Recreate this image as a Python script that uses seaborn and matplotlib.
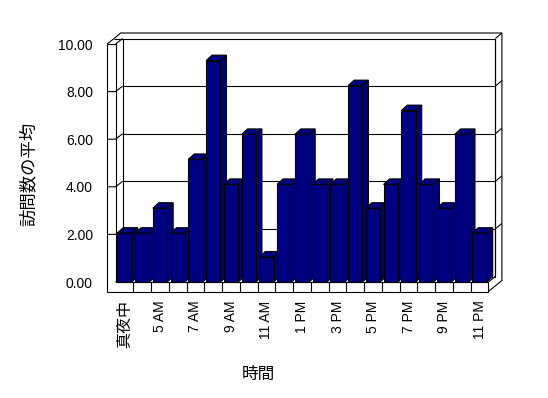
import matplotlib
matplotlib.use("Agg")
import matplotlib.pyplot as plt
import seaborn as sns
import pandas as pd
from matplotlib.patches import Polygon

# ---- data ----
categories = ["真夜中", "4 AM", "5 AM", "6 AM", "7 AM", "8 AM", "9 AM", "10 AM",
              "11 AM", "12 PM", "1 PM", "2 PM", "3 PM", "4 PM", "5 PM", "6 PM",
              "7 PM", "8 PM", "9 PM", "10 PM", "11 PM"]
visits = [2.05, 2.05, 3.1, 2.05, 5.15, 9.3, 4.1, 6.2, 1.05, 4.1, 6.2,
          4.1, 4.1, 8.25, 3.1, 4.1, 7.2, 4.1, 3.1, 6.2, 2.05]
y_ticks = [0, 2, 4, 6, 8, 10]
y_tick_labels = ["0.00", "2.00", "4.00", "6.00", "8.00", "10.00"]
x_label = "時間"
y_label = "訪問数の平均"

sns.set_theme(style="white")
plt.rcParams['font.family'] = ['Liberation Sans', 'Noto Sans CJK JP', 'DejaVu Sans']
for k in ["text.color", "axes.labelcolor", "xtick.color", "ytick.color"]:
    plt.rcParams[k] = "black"

NAVY = "#000080"
LW = 0.8
W, H = 548, 398
fig = plt.figure(figsize=(W / 100, H / 100), dpi=100)
fig.patch.set_facecolor("white")
L, B, AW, AH = 115.6, 116, 372.8, 238
ax = fig.add_axes([L / W, B / H, AW / W, AH / H])
ax.patch.set_alpha(0)

df = pd.DataFrame({"hour": categories, "visits": visits})
sns.barplot(data=df, x="hour", y="visits", color=NAVY, saturation=1,
            width=0.81, edgecolor="black", linewidth=LW, ax=ax)
n = len(categories)
ax.set_xlim(-0.5, n - 0.5)
ax.set_ylim(0, 10)
for s in ax.spines.values():
    s.set_visible(False)
ax.grid(False)

sx = AW / n      # px per x unit
sy = AH / 10     # px per y unit
def px(v): return v / sx
def py(v): return v / sy

# bar depth
dbx, dby = px(6), py(5.5)
for i, p in enumerate(ax.patches):
    x0, w, h = p.get_x(), p.get_width(), p.get_height()
    z = 3 + i * 0.01
    p.set_zorder(z + 0.005)
    p.set_clip_on(False)
    top = Polygon([(x0, h), (x0 + w, h), (x0 + w + dbx, h + dby), (x0 + dbx, h + dby)],
                  closed=True, fc=NAVY, ec="black", lw=LW, zorder=z, clip_on=False)
    side = Polygon([(x0 + w, 0), (x0 + w + dbx, dby), (x0 + w + dbx, h + dby), (x0 + w, h)],
                   closed=True, fc=NAVY, ec="black", lw=LW, zorder=z, clip_on=False)
    ax.add_patch(side)
    ax.add_patch(top)

# 3D frame
xL, xR = -0.5, n - 0.5
xo = xL - px(8.5)
yb = -py(9.5)
d1x, d1y = px(7), py(5.5)
d2x, d2y = px(13.5), py(11)

def line(pts, z=1):
    xs = [q[0] for q in pts]
    ys = [q[1] for q in pts]
    ax.plot(xs, ys, color="black", lw=LW, zorder=z, clip_on=False,
            solid_capstyle="butt", solid_joinstyle="miter")

# back wall inner face
line([(xL + d1x, d1y), (xL + d1x, 10 + d1y)])
line([(xo + d1x, 10 + d1y), (xR + d1x, 10 + d1y), (xR + d1x, d1y)])
line([(xL + d1x, d1y), (xR + d1x, d1y)])
# back wall top band / right edge
line([(xo + d1x, 10 + d1y), (xo + d2x, 10 + d2y), (xR + d2x, 10 + d2y),
      (xR + d2x, yb + d2y), (xR, yb)], z=6)
line([(xR + d1x, 10 + d1y), (xR + d2x, 10 + d2y)], z=6)
line([(xR, 0), (xR + d1x, d1y)], z=6)
line([(xR + d1x, d1y), (xR + d1x, 10 + d1y)], z=6)
# left wall top
line([(xo, 10), (xo + d1x, 10 + d1y)], z=6)
line([(xL, 10), (xL + d1x, 10 + d1y)], z=6)
line([(xL, 0), (xL + d1x, d1y)], z=1)

# gridlines
for v in y_ticks[1:-1]:
    line([(xL + d1x, v + d1y), (xR + d1x, v + d1y)], z=1)
    line([(xR + d1x, v + d1y), (xR + d2x, v + d2y)], z=6)
    line([(xo, v), (xL, v), (xL + d1x, v + d1y)], z=6)

# front faces of left wall and floor
front = Polygon([(xo, 10), (xL, 10), (xL, 0), (xR, 0), (xR, yb), (xo, yb)],
                closed=True, fc="none", ec="black", lw=LW, zorder=6, clip_on=False)
ax.add_patch(front)
for i in range(n - 1):
    line([(i + 0.5, yb), (i + 0.5, 0)], z=6)

# ticks
ax.set_yticks(y_ticks)
ax.set_yticklabels(y_tick_labels, fontsize=10)
ax.tick_params(axis="y", length=0, pad=16.3)
ax.set_xticks(list(range(0, n, 2)))
ax.set_xticklabels(categories[::2], rotation=90, fontsize=10)
ax.tick_params(axis="x", length=0, pad=13.3)
lab0 = ax.get_xticklabels()[0]
lab0.set_fontsize(11.5)
lab0.set_family(["Noto Sans CJK JP"])

ax.set_ylabel(y_label, fontsize=12.5, family=["Noto Sans CJK JP"])
ax.yaxis.set_label_coords(-0.232, 0.454)
ax.yaxis.label.set_va("center")
ax.set_xlabel(x_label, fontsize=12, family=["Noto Sans CJK JP"])
ax.xaxis.set_label_coords(0.382, -0.387)
ax.xaxis.label.set_va("center")

fig.savefig("out.png", dpi=100)
